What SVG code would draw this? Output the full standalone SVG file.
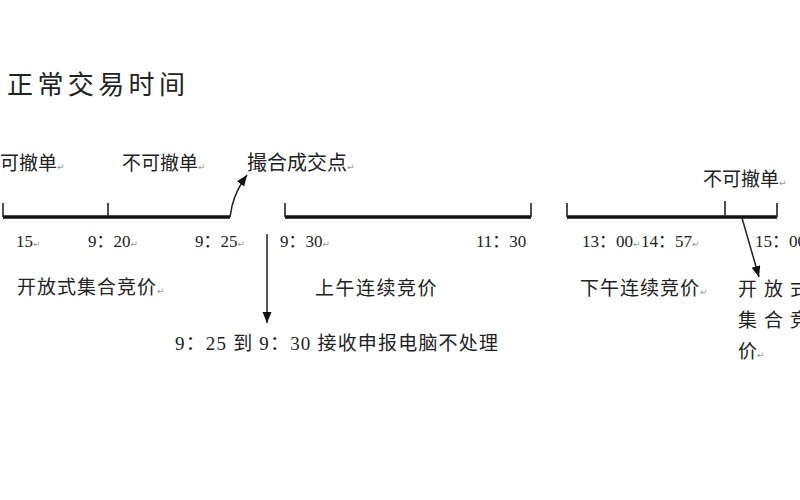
<svg xmlns="http://www.w3.org/2000/svg" width="800" height="500" viewBox="0 0 800 500">
<style>
.cn{font-family:"Noto Sans CJK SC","Noto Sans",sans-serif;font-size:19px;fill:#222}
.num{font-family:"Liberation Serif","Noto Sans CJK SC",serif;font-size:17px;fill:#222}
.pm{font-family:"DejaVu Sans",sans-serif;font-size:9px;fill:#9a9a9a}
.bar{stroke:#111;stroke-width:3.5;fill:none}
.tick{stroke:#222;stroke-width:1.6;fill:none}
.arr{stroke:#222;stroke-width:1.5;fill:none;marker-end:url(#ah)}
</style>
<defs>
<marker id="ah" markerUnits="userSpaceOnUse" markerWidth="12" markerHeight="10" refX="11" refY="4.5" orient="auto">
<path d="M0,0 L11,4.5 L0,9 z" fill="#111"/>
</marker>
</defs>
<rect width="800" height="500" fill="#ffffff"/>
<g id="title">
<text x="7" y="94" class="cn" style="font-size:26px;letter-spacing:4.4px">正常交易时间</text>
</g>
<g id="timeline-morning-auction">
<path class="bar" d="M3 217 H230"/>
<path class="tick" d="M3 217 V203 M108 217 V203"/>
</g>
<g id="timeline-morning">
<path class="bar" d="M285 217 H531"/>
<path class="tick" d="M285 217 V203 M531 217 V203"/>
</g>
<g id="timeline-afternoon">
<path class="bar" d="M567 217 H777"/>
<path class="tick" d="M567 217 V203 M725 217 V201 M777 217 V203"/>
</g>
<g id="label-cancel-1"><text x="0" y="170" class="cn">可撤单<tspan class="pm">↵</tspan></text></g>
<g id="label-nocancel-1"><text x="122" y="170" class="cn">不可撤单<tspan class="pm">↵</tspan></text></g>
<g id="label-match"><text x="247" y="170" class="cn" style="font-size:20px">撮合成交点<tspan class="pm">↵</tspan></text></g>
<g id="label-nocancel-2"><text x="703" y="186" class="cn">不可撤单<tspan class="pm">↵</tspan></text></g>
<g id="times">
<text x="16" y="247" class="num">15<tspan class="pm">↵</tspan></text>
<text x="88" y="247" class="num">9：20<tspan class="pm">↵</tspan></text>
<text x="195" y="247" class="num">9：25<tspan class="pm">↵</tspan></text>
<text x="280" y="247" class="num">9：30<tspan class="pm">↵</tspan></text>
<text x="476" y="247" class="num">11：30</text>
<text x="582" y="247" class="num">13：00<tspan class="pm">↵</tspan></text>
<text x="641" y="247" class="num">14：57<tspan class="pm">↵</tspan></text>
<text x="755" y="247" class="num">15：00</text>
</g>
<g id="label-open-auction"><text x="17" y="294" class="cn" style="letter-spacing:1px">开放式集合竞价<tspan class="pm">↵</tspan></text></g>
<g id="label-am-continuous"><text x="315" y="295" class="cn" style="letter-spacing:1.5px">上午连续竞价</text></g>
<g id="label-pm-continuous"><text x="580" y="295" class="cn" style="letter-spacing:1px">下午连续竞价<tspan class="pm">↵</tspan></text></g>
<g id="label-close-auction">
<text x="738" y="296" class="cn" style="letter-spacing:7px">开放式</text>
<text x="738" y="327" class="cn" style="letter-spacing:7px">集合竞</text>
<text x="738" y="358" class="cn">价<tspan class="pm">↵</tspan></text>
</g>
<g id="label-no-process"><text x="175" y="350" class="num" style="font-size:19px" textLength="323" lengthAdjust="spacing">9：25 到 9：30 接收申报电脑不处理</text></g>
<g id="connectors">
<path class="arr" d="M230 217 L232 206 Q236 190 247 175"/>
<path class="arr" d="M267 234 V323"/>
<path class="arr" d="M742 218 L759 277"/>
</g>
</svg>
